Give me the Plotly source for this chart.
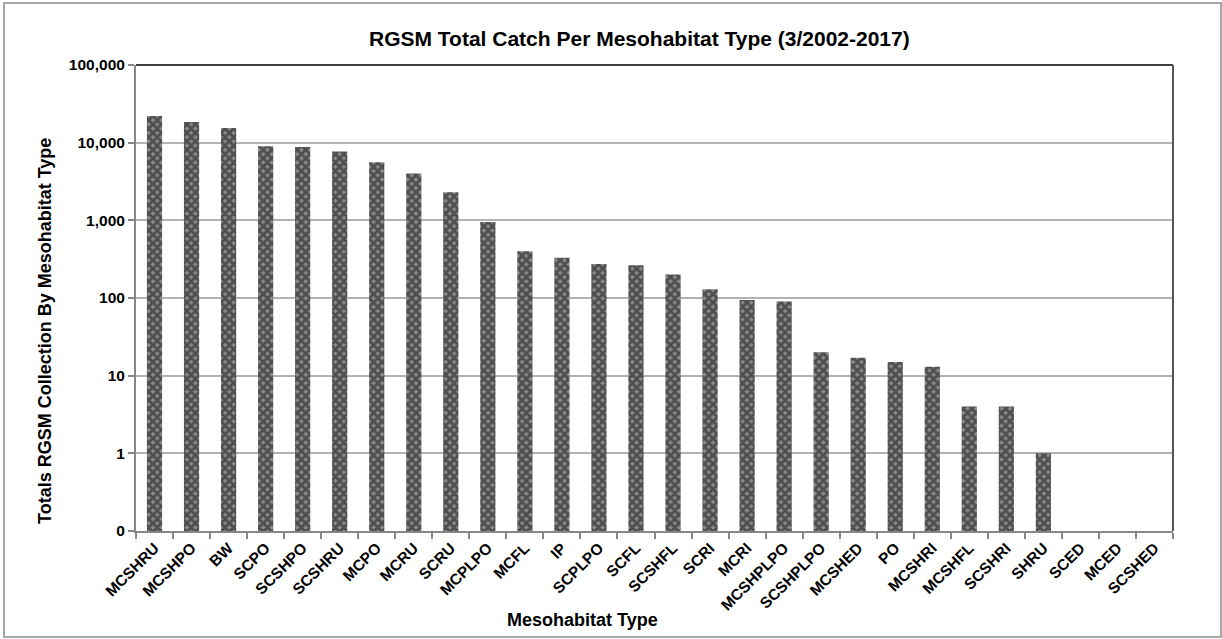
import plotly.graph_objects as go

categories = ["MCSHRU", "MCSHPO", "BW", "SCPO", "SCSHPO", "SCSHRU", "MCPO", "MCRU",
              "SCRU", "MCPLPO", "MCFL", "IP", "SCPLPO", "SCFL", "SCSHFL", "SCRI",
              "MCRI", "MCSHPLPO", "SCSHPLPO", "MCSHED", "PO", "MCSHRI", "MCSHFL",
              "SCSHRI", "SHRU", "SCED", "MCED", "SCSHED"]
totals = [22000, 18500, 15500, 9000, 8800, 7700, 5600, 4000,
          2300, 950, 400, 330, 275, 265, 200, 130,
          94, 90, 20, 17, 15, 13, 4,
          4, 1, 0, 0, 0]
tick_vals = [0.1, 1, 10, 100, 1000, 10000, 100000]
tick_text = ["0", "1", "10", "100", "1,000", "10,000", "100,000"]

W, H = 1222, 639
L, R, T, B = 136, 49, 65, 108
pw, ph = W - L - R, H - T - B

def px_x(p):
    return (p - L) / pw

def px_y(p):
    return (H - B - p) / ph

font = "Liberation Sans, Arial, sans-serif"

fig = go.Figure(go.Bar(
    x=categories,
    y=[v if v > 0 else None for v in totals],
    marker=dict(color="#555555", line=dict(width=0),
                pattern=dict(shape="x", fgcolor="#111111", bgcolor="#8a8a8a",
                             size=6, solidity=0.7)),
))

fig.update_layout(
    width=W, height=H,
    margin=dict(l=L, r=R, t=T, b=B),
    paper_bgcolor="white", plot_bgcolor="white",
    bargap=0.59,
    showlegend=False,
    font=dict(family=font, color="black"),
)

fig.update_xaxes(
    type="category", tickangle=-45,
    tickvals=categories, ticktext=["<b>%s</b>" % c for c in categories],
    tickfont=dict(size=15.5, family=font, color="black"),
    showline=True, linecolor="#878787", linewidth=2,
    ticks="outside", tickson="boundaries", ticklen=6, tickcolor="#878787", tickwidth=1.5,
    showgrid=False,
)
fig.update_yaxes(
    type="log", range=[-1, 5],
    tickvals=tick_vals, ticktext=["<b>%s</b>" % t for t in tick_text],
    tickfont=dict(size=15.5, family=font, color="black"),
    showline=True, linecolor="#878787", linewidth=2,
    ticks="outside", ticklen=6, tickcolor="#878787", tickwidth=1.5,
    showgrid=True, gridcolor="#b3b3b3", gridwidth=1.5,
    zeroline=False,
)

# top and right borders of plot area
fig.add_shape(type="line", xref="paper", yref="paper", x0=0, x1=1, y0=1, y1=1,
              line=dict(color="black", width=1.5))
fig.add_shape(type="line", xref="paper", yref="paper", x0=1, x1=1, y0=0, y1=1,
              line=dict(color="#555555", width=2))
# outer chart border
fig.add_shape(type="rect", xref="paper", yref="paper",
              x0=px_x(4), x1=px_x(1221), y0=px_y(637), y1=px_y(3),
              line=dict(color="#8c8c8c", width=1.5))

fig.add_annotation(text="<b>RGSM Total Catch Per Mesohabitat Type (3/2002-2017)</b>",
                   xref="paper", yref="paper", x=px_x(639), y=px_y(38),
                   showarrow=False, font=dict(size=21, family=font, color="black"),
                   xanchor="center", yanchor="middle")
fig.add_annotation(text="<b>Mesohabitat Type</b>",
                   xref="paper", yref="paper", x=px_x(582), y=px_y(620),
                   showarrow=False, font=dict(size=18, family=font, color="black"),
                   xanchor="center", yanchor="middle")
fig.add_annotation(text="<b>Totals RGSM Collection By Mesohabitat Type</b>",
                   xref="paper", yref="paper", x=px_x(45), y=px_y(331),
                   showarrow=False, textangle=-90,
                   font=dict(size=18, family=font, color="black"),
                   xanchor="center", yanchor="middle")

fig.write_html("out.html")
